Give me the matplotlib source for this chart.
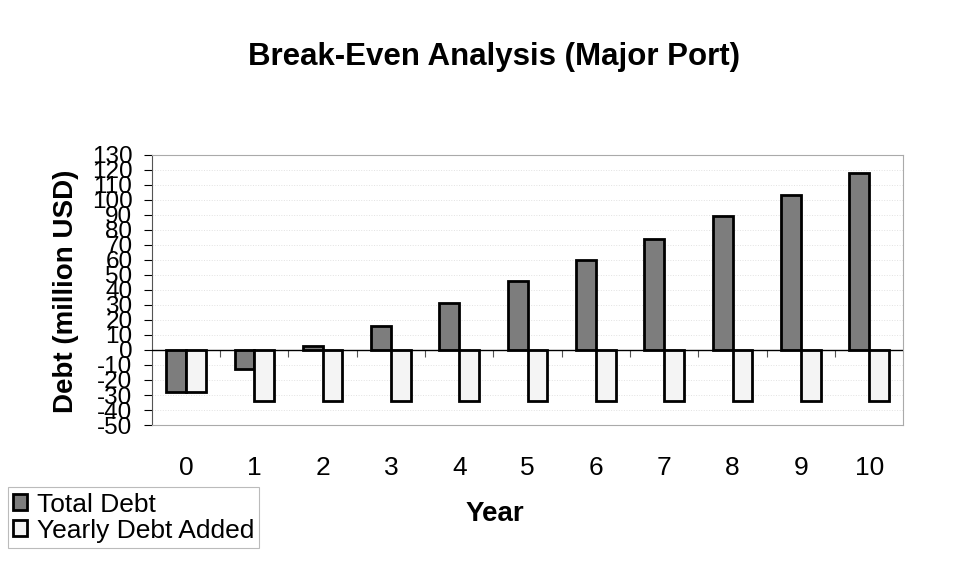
import matplotlib.pyplot as plt
import numpy as np

years = ['0', '1', '2', '3', '4', '5', '6', '7', '8', '9', '10']
total_debt = [-28, -13, 2.5, 16, 31, 46, 60, 74, 89, 103, 118]
yearly_added = [-28, -34, -34, -34, -34, -34, -34, -34, -34, -34, -34]
y_ticks = list(range(-50, 131, 10))

plt.rcParams['font.family'] = 'Liberation Sans'

fig = plt.figure(figsize=(9.61, 5.69), dpi=100)
ax = fig.add_axes([0.158, 0.253, 0.782, 0.475])

x = np.arange(len(years))
w = 0.29
ax.bar(x - w / 2, total_debt, w, color='#7d7d7d', edgecolor='black', linewidth=2,
       label='Total Debt', zorder=3)
ax.bar(x + w / 2, yearly_added, w, color='#f4f4f4', edgecolor='black', linewidth=2,
       label='Yearly Debt Added', zorder=3)

ax.set_xlim(-0.5, 10.5)
ax.set_ylim(-50, 130)
ax.set_yticks(y_ticks)
ax.set_yticklabels([str(v) for v in y_ticks], fontsize=17.5)
ax.tick_params(axis='y', length=6, width=0.8, pad=8)
ax.yaxis.grid(True, color='#e2e2e2', linestyle=':', linewidth=0.7, zorder=0)

ax.set_xticks(x)
ax.set_xticklabels(years, fontsize=19)
ax.tick_params(axis='x', length=0, pad=22)

# zero line with category separators
ax.axhline(0, color='black', linewidth=1, zorder=4)
zero_pos = (0 - (-50)) / 180
sec = ax.secondary_xaxis(zero_pos)
sec.set_xticks(np.arange(0.5, 10, 1))
sec.set_xticklabels([])
sec.tick_params(axis='x', direction='out', length=5, width=0.8, color='#555555')
sec.spines['bottom'].set_visible(False)

for s in ['top', 'right', 'bottom']:
    ax.spines[s].set_color('#aaaaaa')
    ax.spines[s].set_linewidth(0.8)
ax.spines['left'].set_color('#555555')

ax.set_ylabel('Debt (million USD)', fontsize=20, fontweight='bold')
ax.yaxis.set_label_coords(-0.097, 0.495)
ax.set_xlabel('Year', fontsize=20, fontweight='bold')
ax.xaxis.set_label_coords(0.457, -0.28)

fig.text(0.514, 0.9, 'Break-Even Analysis (Major Port)', fontsize=22.5,
         fontweight='bold', ha='center', va='center')

leg = fig.legend(loc='lower left', bbox_to_anchor=(0.008, 0.037), fontsize=19,
                 frameon=True, fancybox=False, edgecolor='#aaaaaa',
                 handlelength=0.55, handleheight=0.55, handletextpad=0.35,
                 borderpad=0.2, labelspacing=0.08, borderaxespad=0)
leg.get_frame().set_linewidth(0.8)

fig.savefig('out.png', dpi=100)
